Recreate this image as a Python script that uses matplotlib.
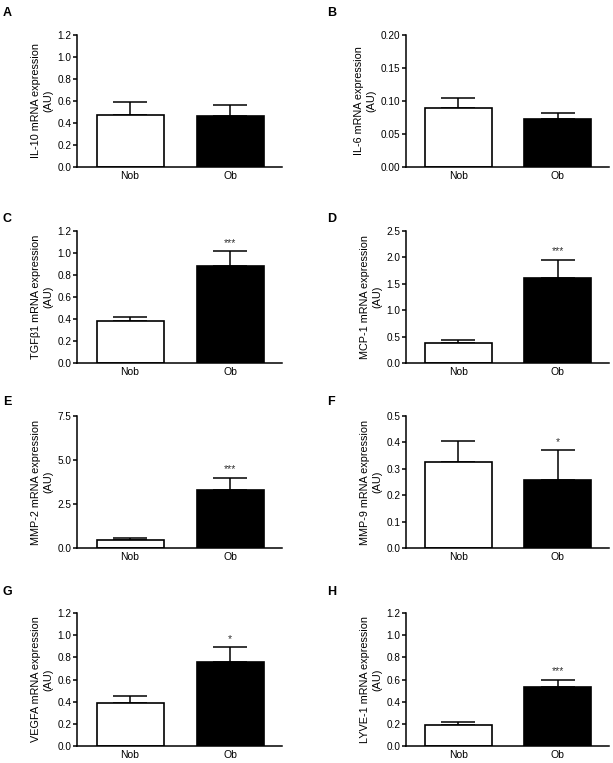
"""Gene expression bar panels, Nob vs Ob."""

import matplotlib.pyplot as plt
import numpy as np

plt.rcParams["font.family"] = ["Liberation Sans", "DejaVu Sans"]

groups = ["Nob", "Ob"]
panel_letters = ["A", "B", "C", "D", "E", "F", "G", "H"]
genes = ["IL-10", "IL-6", "TGF\u03b21", "MCP-1", "MMP-2", "MMP-9", "VEGFA", "LYVE-1"]

nob_mean = [0.470, 0.089, 0.378, 0.383, 0.435, 0.325, 0.384, 0.187]
nob_sem = [0.118, 0.016, 0.042, 0.050, 0.115, 0.079, 0.066, 0.033]
ob_mean = [0.460, 0.0725, 0.886, 1.614, 3.29, 0.258, 0.759, 0.529]
ob_sem = [0.100, 0.009, 0.130, 0.346, 0.70, 0.112, 0.133, 0.071]
stars = ["", "", "***", "***", "***", "*", "*", "***"]

y_max = [1.2, 0.20, 1.2, 2.5, 7.5, 0.5, 1.2, 1.2]
y_step = [0.2, 0.05, 0.2, 0.5, 2.5, 0.1, 0.2, 0.2]
y_fmt = ["{:.1f}", "{:.2f}", "{:.1f}", "{:.1f}", "{:.1f}", "{:.1f}", "{:.1f}", "{:.1f}"]

W, H = 613, 763
fig = plt.figure(figsize=(W / 100, H / 100), dpi=100)

# pixel boxes: left, top, right, bottom
col_x = [(77, 282), (406, 609)]
row_y = [(35, 167), (231, 363), (416, 548), (613, 746)]
label_y = [7, 213, 396, 586]
label_x = [3, 327]

for i, gene in enumerate(genes):
    row, col = divmod(i, 2)
    x0, x1 = col_x[col]
    t, b = row_y[row]
    ax = fig.add_axes([x0 / W, 1 - b / H, (x1 - x0) / W, (b - t) / H])

    x = np.arange(2)
    means = [nob_mean[i], ob_mean[i]]
    errs = [nob_sem[i], ob_sem[i]]
    ax.errorbar(x, means, yerr=[[0, 0], errs], fmt="none", ecolor="black",
                elinewidth=1.1, capsize=12, capthick=1.1, zorder=1)
    ax.bar(x, means, width=0.67, color=["white", "black"], edgecolor="black",
           linewidth=1.2, zorder=2)

    if stars[i]:
        top = ob_mean[i] + ob_sem[i]
        ax.annotate(stars[i], (1, top), xytext=(0, 2.5), textcoords="offset points",
                    ha="center", va="bottom", fontsize=7.5, color="#333333")

    ticks = np.arange(0, y_max[i] + y_step[i] / 2, y_step[i])
    ax.set_yticks(ticks)
    ax.set_yticklabels([y_fmt[i].format(v) for v in ticks])
    ax.set_ylim(0, y_max[i])
    ax.set_xlim(-0.53, 1.52)
    ax.set_xticks(x)
    ax.set_xticklabels(groups)
    ax.tick_params(axis="x", length=0, labelsize=7.5, pad=3)
    ax.tick_params(axis="y", length=3, width=1.1, labelsize=7.2, pad=1)
    ax.spines["top"].set_visible(False)
    ax.spines["right"].set_visible(False)
    ax.spines["left"].set_linewidth(1.1)
    ax.spines["bottom"].set_linewidth(1.1)
    ax.set_ylabel(f"{gene} mRNA expression\n(AU)", fontsize=7.8, labelpad=3,
                  linespacing=1.3)

    fig.text(label_x[col] / W, 1 - label_y[row] / H, panel_letters[i],
             fontsize=9, fontweight="bold", ha="left", va="top")

fig.savefig("out.png", dpi=100)
